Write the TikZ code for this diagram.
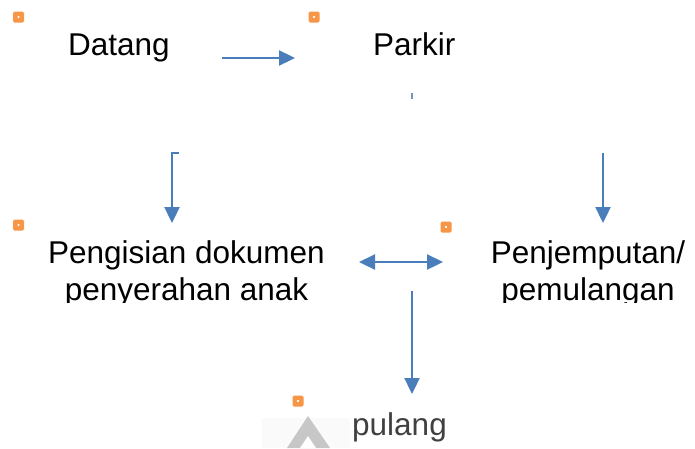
\documentclass[tikz,border=0pt]{standalone}
\usepackage{fontspec}
\setmainfont{Liberation Sans}
\usetikzlibrary{arrows.meta}
\definecolor{arrblue}{HTML}{4A7EBB}
\definecolor{handle}{HTML}{F79646}
\definecolor{greytxt}{HTML}{404040}
\begin{document}
\begin{tikzpicture}[x=1pt,y=-1pt,
  lbl/.style={inner sep=0pt,font=\fontsize{31.5}{37}\selectfont},
  conn/.style={draw=arrblue,line width=2.3pt,-{Triangle[length=16pt,width=15pt]}},
  conn2/.style={draw=arrblue,line width=2.3pt,{Triangle[length=16pt,width=15pt]}-{Triangle[length=16pt,width=15pt]}},
  hnd/.style={fill=handle,rounded corners=1.5pt,minimum size=11pt,inner sep=0pt,
    path picture={\fill[white] ([xshift=-0.8pt,yshift=-0.8pt]path picture bounding box.center) rectangle ++(1.6pt,1.6pt);}}]
\useasboundingbox (0,0) rectangle (695,448);
\fill[white] (0,0) rectangle (695,448);
% handles
\node[hnd] (h1) at (18.5,17) {};
\node[hnd] (h2) at (314,17) {};
\node[hnd] (h3) at (18.5,225) {};
\node[hnd] (h4) at (446,227) {};
\node[hnd] (h5) at (298,401) {};
% faded icon
\fill[black!2] (262,418) rectangle (350,448);
\fill[black!22] (287,448) -- (308,416) -- (330,448) -- cycle;
\fill[white] (300,448) -- (308,436) -- (316,448) -- cycle;
% texts
\node[lbl,anchor=base west] (datang) at (68,55) {Datang};
\node[lbl,anchor=base west] (parkir) at (373,55) {Parkir};
\begin{scope}
\clip (0,0) rectangle (695,302);
\node[lbl,anchor=base,align=center] (isi) at (186.5,300) {Pengisian dokumen\\penyerahan anak};
\node[lbl,anchor=base,align=center] (jemput) at (588,300) {Penjemputan/\\pemulangan};
\end{scope}
\node[lbl,anchor=base west,text=greytxt] (pulang) at (352,435) {pulang};
% connector end points
\coordinate (a1) at (222,58);
\coordinate (a2) at (295,58);
\coordinate (t1) at (412,93);
\coordinate (t2) at (412,99);
\coordinate (b0) at (179,153);
\coordinate (b1) at (172,153);
\coordinate (b2) at (172,223);
\coordinate (c1) at (603,153);
\coordinate (c2) at (603,223);
\coordinate (d1) at (359,262);
\coordinate (d2) at (443,262);
\coordinate (e1) at (412,291);
\coordinate (e2) at (412,394);
% connectors
\draw[conn] (a1) -- (a2);
\draw[draw=arrblue!80,line width=2.3pt] (t1) -- (t2);
\draw[conn] (b0) -- (b1) -- (b2);
\draw[conn] (c1) -- (c2);
\draw[conn2] (d1) -- (d2);
\draw[conn] (e1) -- (e2);
\end{tikzpicture}
\end{document}
